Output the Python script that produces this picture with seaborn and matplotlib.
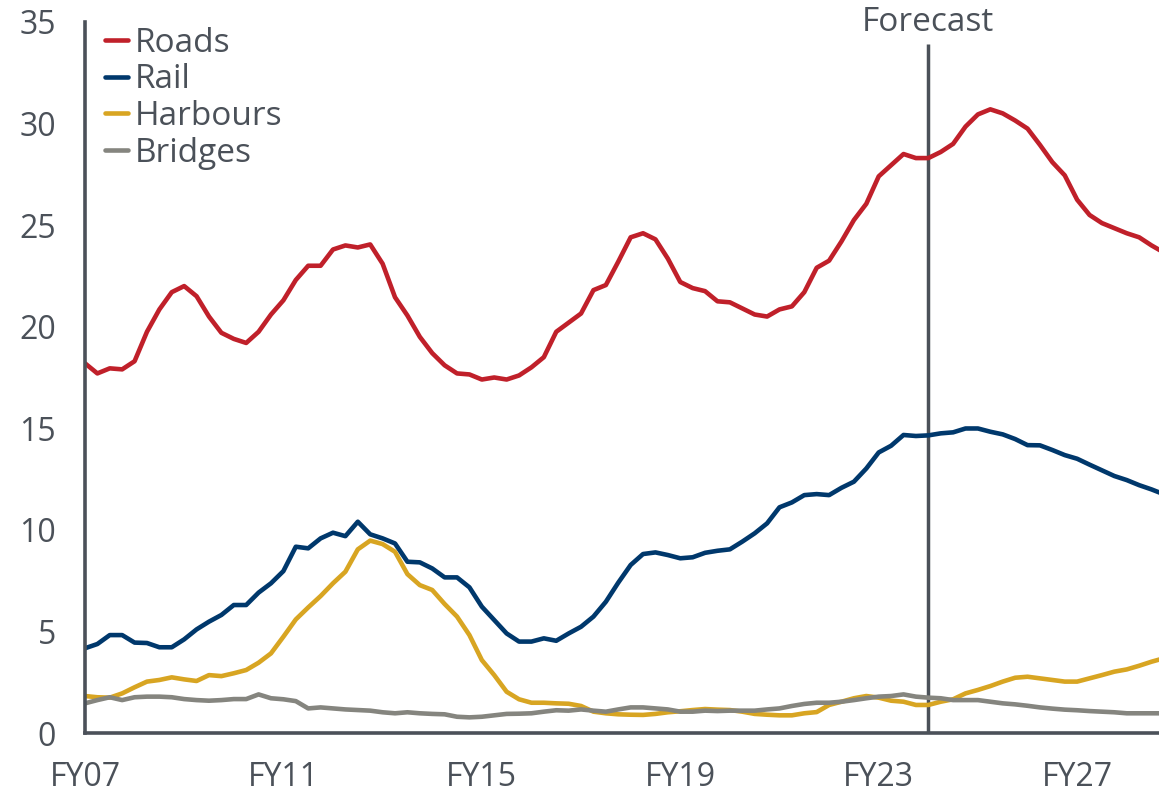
import numpy as np
import pandas as pd
import matplotlib
matplotlib.use("Agg")
import matplotlib.pyplot as plt
import seaborn as sns

# Quarterly series, FY07 Q1 onwards (forecast from FY24)
roads = [18.2, 17.7, 17.95, 17.9, 18.3, 19.75, 20.85, 21.7, 22.0, 21.5,
         20.5, 19.7, 19.4, 19.2, 19.75, 20.6, 21.3, 22.3, 23.0, 23.0,
         23.8, 24.0, 23.9, 24.05, 23.1, 21.45, 20.55, 19.5, 18.7, 18.1,
         17.7, 17.65, 17.4, 17.5, 17.4, 17.6, 18.0, 18.5, 19.75, 20.2,
         20.65, 21.8, 22.05, 23.2, 24.4, 24.6, 24.3, 23.35, 22.2, 21.9,
         21.75, 21.25, 21.2, 20.9, 20.6, 20.5, 20.85, 21.0, 21.7, 22.9,
         23.25, 24.2, 25.25, 26.05, 27.4, 27.95, 28.5, 28.3, 28.3, 28.6,
         29.0, 29.85, 30.45, 30.7, 30.5, 30.15, 29.75, 28.95, 28.1, 27.45,
         26.25, 25.5, 25.1, 24.85, 24.6, 24.4, 24.0, 23.65]
rail = [4.17, 4.38, 4.82, 4.82, 4.45, 4.43, 4.22, 4.22, 4.61, 5.1,
        5.48, 5.81, 6.3, 6.3, 6.91, 7.37, 7.97, 9.17, 9.09, 9.58,
        9.86, 9.69, 10.4, 9.78, 9.58, 9.33, 8.43, 8.4, 8.1, 7.66,
        7.66, 7.17, 6.22, 5.56, 4.9, 4.5, 4.5, 4.66, 4.54, 4.9,
        5.23, 5.73, 6.46, 7.4, 8.27, 8.81, 8.89, 8.76, 8.6, 8.65,
        8.87, 8.97, 9.04, 9.42, 9.83, 10.32, 11.11, 11.35, 11.71, 11.76,
        11.71, 12.07, 12.37, 13.02, 13.81, 14.14, 14.67, 14.62, 14.65, 14.75,
        14.8, 14.99, 14.99, 14.83, 14.7, 14.47, 14.17, 14.16, 13.93, 13.68,
        13.5, 13.21, 12.93, 12.65, 12.45, 12.2, 11.99, 11.75]
harbours = [1.82, 1.76, 1.74, 1.95, 2.25, 2.53, 2.61, 2.74, 2.64, 2.56,
            2.85, 2.8, 2.94, 3.1, 3.46, 3.92, 4.74, 5.59, 6.18, 6.74,
            7.37, 7.94, 9.04, 9.47, 9.3, 8.92, 7.82, 7.28, 7.04, 6.35,
            5.73, 4.82, 3.59, 2.85, 2.03, 1.66, 1.49, 1.49, 1.46, 1.44,
            1.33, 1.05, 0.97, 0.92, 0.9, 0.89, 0.94, 1.02, 1.07, 1.13,
            1.18, 1.15, 1.13, 1.05, 0.94, 0.9, 0.87, 0.87, 0.97, 1.03,
            1.38, 1.54, 1.71, 1.82, 1.74, 1.59, 1.54, 1.38, 1.38, 1.54,
            1.66, 1.95, 2.12, 2.31, 2.53, 2.72, 2.77, 2.69, 2.61, 2.53,
            2.53, 2.69, 2.85, 3.02, 3.13, 3.31, 3.51, 3.68]
bridges = [1.46, 1.62, 1.76, 1.62, 1.76, 1.79, 1.79, 1.76, 1.67, 1.62,
           1.59, 1.62, 1.67, 1.67, 1.9, 1.71, 1.66, 1.57, 1.21, 1.26,
           1.21, 1.16, 1.13, 1.1, 1.02, 0.97, 1.02, 0.97, 0.94, 0.92,
           0.8, 0.77, 0.8, 0.87, 0.94, 0.95, 0.97, 1.05, 1.12, 1.1,
           1.16, 1.1, 1.05, 1.16, 1.26, 1.26, 1.21, 1.16, 1.05, 1.05,
           1.1, 1.08, 1.1, 1.1, 1.1, 1.16, 1.21, 1.33, 1.43, 1.49,
           1.49, 1.54, 1.62, 1.71, 1.79, 1.82, 1.9, 1.79, 1.74, 1.71,
           1.62, 1.62, 1.62, 1.54, 1.46, 1.41, 1.34, 1.26, 1.2, 1.15,
           1.12, 1.08, 1.05, 1.02, 0.97, 0.97, 0.97, 0.97]

series_names = ["Roads", "Rail", "Harbours", "Bridges"]
colors = ["#c0202a", "#00386c", "#d8a522", "#85857f"]
year_labels = ["FY07", "FY11", "FY15", "FY19", "FY23", "FY27"]
forecast_year = 17  # FY24

# years since FY07, one point per quarter
t = np.arange(len(roads)) / 4

df = pd.DataFrame({"t": t, "Roads": roads, "Rail": rail,
                   "Harbours": harbours, "Bridges": bridges})
long = df.melt(id_vars="t", var_name="series", value_name="value")

sns.set_style("white")
plt.rcParams["font.family"] = ["Open Sans", "DejaVu Sans"]
axis_col = "#4b5159"
text_col = "#4b5159"

fig = plt.figure(figsize=(11.59, 7.99), dpi=100)
ax = fig.add_axes([0.0733, 0.0826, 0.9267, 0.8899])

sns.lineplot(data=long, x="t", y="value", hue="series", hue_order=series_names,
             palette=colors, linewidth=3.3, ax=ax, legend=False)

# forecast marker
ax.plot([forecast_year, forecast_year], [0, 33.9], color=axis_col, lw=2.5,
        solid_capstyle="butt", zorder=1)
ax.text(forecast_year, 34.95, "Forecast", ha="center", va="center",
        fontsize=24, color=text_col, clip_on=False)

ax.set_xlim(0, 21.65)
ax.set_ylim(0, 35)
ax.set_xticks(np.arange(0, 22))
ax.set_xticklabels([year_labels[i // 4] if i % 4 == 0 else "" for i in range(22)])
ax.set_yticks(np.arange(0, 36, 5))
ax.set_xlabel("")
ax.set_ylabel("")

for side in ["top", "right"]:
    ax.spines[side].set_visible(False)
for side in ["left", "bottom"]:
    ax.spines[side].set_color(axis_col)
    ax.spines[side].set_linewidth(2.6)
ax.tick_params(axis="both", colors=axis_col, labelcolor=text_col,
               labelsize=23, width=2.6, length=6, direction="out")
ax.tick_params(axis="y", pad=15)
ax.tick_params(axis="x", pad=14)

handles = [plt.Line2D([], [], color=c, lw=3.3) for c in colors]
ax.legend(handles, series_names, loc="upper left", bbox_to_anchor=(0.006, 1.012),
          frameon=False, fontsize=24, labelcolor=text_col, handlelength=0.7,
          handletextpad=0.2, labelspacing=0.11, borderaxespad=0.0)

fig.savefig("out.png", dpi=100)
